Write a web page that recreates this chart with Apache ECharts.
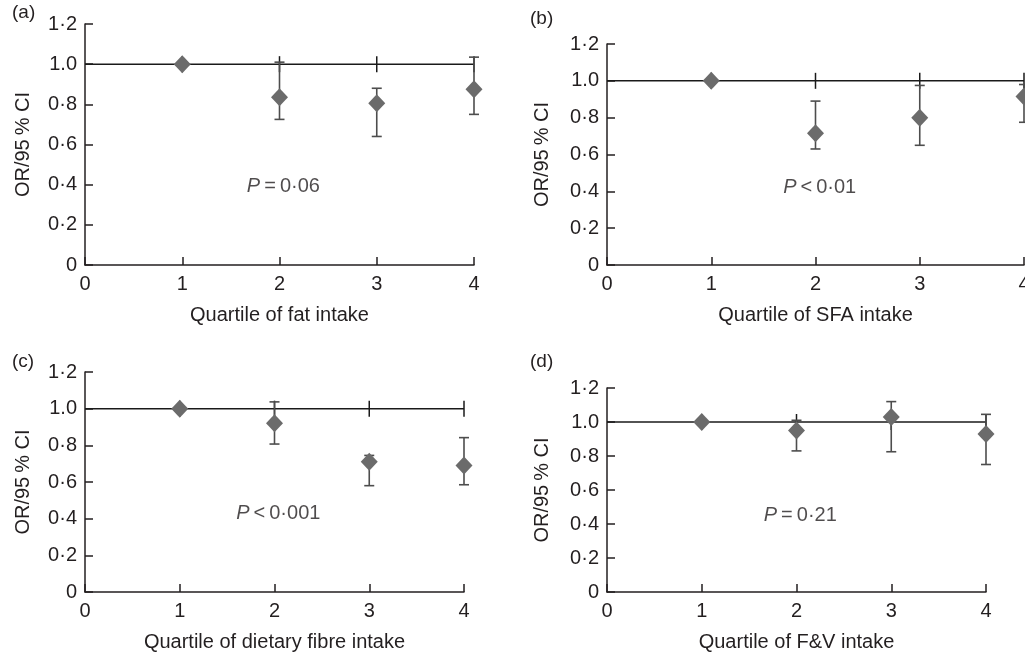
<!DOCTYPE html>
<html>
<head>
<meta charset="utf-8">
<script src="https://cdn.jsdelivr.net/npm/echarts@6/dist/echarts.min.js"></script>
<style>
  html, body { margin: 0; padding: 0; background: #fff; }
  #chart { width: 1025px; height: 655px; }
</style>
</head>
<body>
<div id="chart"></div>
<script>
// quartile positions on the x axis
const quartiles = [1, 2, 3, 4]
const xTickLabels = ['0', '1', '2', '3', '4']
const yTickLabels = ['0', '0·2', '0·4', '0·6', '0·8', '1.0', '1·2']

// (a) fat
const fatOR = [1.0, 0.835, 0.805, 0.875]
const fatLower = [null, 0.725, 0.64, 0.75]
const fatUpper = [null, 1.01, 0.88, 1.035]
// (b) SFA
const sfaOR = [1.0, 0.715, 0.80, 0.915]
const sfaLower = [null, 0.63, 0.65, 0.775]
const sfaUpper = [null, 0.89, 0.975, 0.98]
// (c) dietary fibre
const fibreOR = [1.0, 0.92, 0.71, 0.69]
const fibreLower = [null, 0.807, 0.58, 0.585]
const fibreUpper = [null, 1.037, 0.745, 0.842]
// (d) fruit & veg
const fvOR = [1.0, 0.95, 1.03, 0.93]
const fvLower = [null, 0.83, 0.825, 0.75]
const fvUpper = [null, 1.01, 1.12, 1.045]

const panelLetters = ['(a)', '(b)', '(c)', '(d)']
const xNames = ['Quartile of fat intake', 'Quartile of SFA intake',
  'Quartile of dietary fibre intake', 'Quartile of F&V intake']
const pSigns = ['=', '<', '<', '=']
const pValues = ['0·06', '0·01', '0·001', '0·21']
const pNoteX = [2.04, 2.04, 2.04, 2.04]
const pNoteY = [0.39, 0.42, 0.43, 0.45]

const panels = [
  { or: fatOR, lo: fatLower, hi: fatUpper },
  { or: sfaOR, lo: sfaLower, hi: sfaUpper },
  { or: fibreOR, lo: fibreLower, hi: fibreUpper },
  { or: fvOR, lo: fvLower, hi: fvUpper }
]

// layout
const grids = [
  { left: 85, top: 24, width: 389, height: 241, outerBoundsMode: 'none', containLabel: false },
  { left: 607, top: 44, width: 417, height: 221, outerBoundsMode: 'none', containLabel: false },
  { left: 85, top: 372, width: 379, height: 220, outerBoundsMode: 'none', containLabel: false },
  { left: 607, top: 388, width: 379, height: 204, outerBoundsMode: 'none', containLabel: false }
]
const yNameGaps = [52, 55, 52, 55]
const letterPos = [[12, 3], [530, 9], [12, 352], [530, 352]]

const FONT = 'Liberation Sans, Arial, sans-serif'
const INK = '#231f20'

let chart = echarts.init(document.getElementById('chart'), null, { renderer: 'canvas' })

let xAxes = []
let yAxes = []
let series = []

panels.forEach((p, i) => {
  xAxes.push({
    type: 'value', gridIndex: i, min: 0, max: 4, interval: 1,
    name: xNames[i], nameLocation: 'middle', nameGap: 40,
    nameTextStyle: { fontFamily: FONT, fontSize: 20, color: INK },
    axisLine: { onZero: false, lineStyle: { color: INK, width: 1.5 } },
    axisTick: { inside: true, length: 8, lineStyle: { color: INK, width: 1.5 } },
    axisLabel: { margin: 9, fontFamily: FONT, fontSize: 20, color: INK, hideOverlap: false,
      formatter: v => xTickLabels[Math.round(v)] },
    splitLine: { show: false }
  })
  yAxes.push({
    type: 'value', gridIndex: i, min: 0, max: 1.2, interval: 0.2,
    name: 'OR/95\u2009% CI', nameLocation: 'middle', nameGap: yNameGaps[i],
    nameTextStyle: { fontFamily: FONT, fontSize: 20, color: INK },
    axisLine: { show: true, onZero: false, lineStyle: { color: INK, width: 1.5 } },
    axisTick: { show: true, inside: true, length: 8, lineStyle: { color: INK, width: 1.5 } },
    axisLabel: { margin: 8, fontFamily: FONT, fontSize: 20, color: INK,
      formatter: v => yTickLabels[Math.round(v / 0.2)] },
    splitLine: { show: false }
  })

  // reference line at OR = 1
  series.push({
    type: 'line', xAxisIndex: i, yAxisIndex: i, silent: true,
    data: [[0, 1], [4, 1]], symbol: 'none', clip: false,
    lineStyle: { color: '#1a1a1a', width: 1.5 }, z: 2
  })
  // small ticks on the reference line
  series.push({
    type: 'custom', xAxisIndex: i, yAxisIndex: i, silent: true, z: 3, clip: false,
    data: quartiles.map(q => [q, 1]),
    renderItem: (params, api) => {
      let c = api.coord([api.value(0), api.value(1)])
      return {
        type: 'line',
        shape: { x1: c[0], y1: c[1] - 8, x2: c[0], y2: c[1] + 8 },
        style: { stroke: '#1a1a1a', lineWidth: 1.5 }
      }
    }
  })
  // 95% CI error bars
  let bars = []
  quartiles.forEach((q, k) => {
    if (p.lo[k] != null) bars.push([q, p.lo[k], p.hi[k]])
  })
  series.push({
    type: 'custom', xAxisIndex: i, yAxisIndex: i, silent: true, z: 4, clip: false,
    data: bars,
    renderItem: (params, api) => {
      let lo = api.coord([api.value(0), api.value(1)])
      let hi = api.coord([api.value(0), api.value(2)])
      let st = { stroke: '#4d4d4d', lineWidth: 1.6 }
      return {
        type: 'group',
        children: [
          { type: 'line', shape: { x1: lo[0], y1: lo[1], x2: hi[0], y2: hi[1] }, style: st },
          { type: 'line', shape: { x1: hi[0] - 5, y1: hi[1], x2: hi[0] + 5, y2: hi[1] }, style: st },
          { type: 'line', shape: { x1: lo[0] - 5, y1: lo[1], x2: lo[0] + 5, y2: lo[1] }, style: st }
        ]
      }
    }
  })
  // odds ratios
  series.push({
    type: 'scatter', xAxisIndex: i, yAxisIndex: i, silent: true, z: 5, clip: false,
    data: quartiles.map((q, k) => [q, p.or[k]]),
    symbol: 'diamond', symbolSize: [17, 18],
    itemStyle: { color: '#6b6b6b', opacity: 1 }
  })
  // P value note
  series.push({
    type: 'scatter', xAxisIndex: i, yAxisIndex: i, silent: true, z: 6,
    data: [[pNoteX[i], pNoteY[i]]],
    symbolSize: 0,
    label: {
      show: true, position: 'inside',
      formatter: '{i|P}{n|\u2009' + pSigns[i] + '\u2009' + pValues[i] + '}',
      rich: {
        i: { fontFamily: FONT, fontSize: 20, fontStyle: 'italic', color: INK },
        n: { fontFamily: FONT, fontSize: 20, color: INK }
      }
    }
  })
})

let option = {
  animation: false,
  backgroundColor: '#fff',
  grid: grids,
  xAxis: xAxes,
  yAxis: yAxes,
  series: series,
  graphic: panelLetters.map((t, i) => ({
    type: 'text', left: letterPos[i][0], top: letterPos[i][1],
    style: { text: t, fontFamily: FONT, fontSize: 19, fill: INK }
  }))
}

chart.setOption(option)
</script>
</body>
</html>
